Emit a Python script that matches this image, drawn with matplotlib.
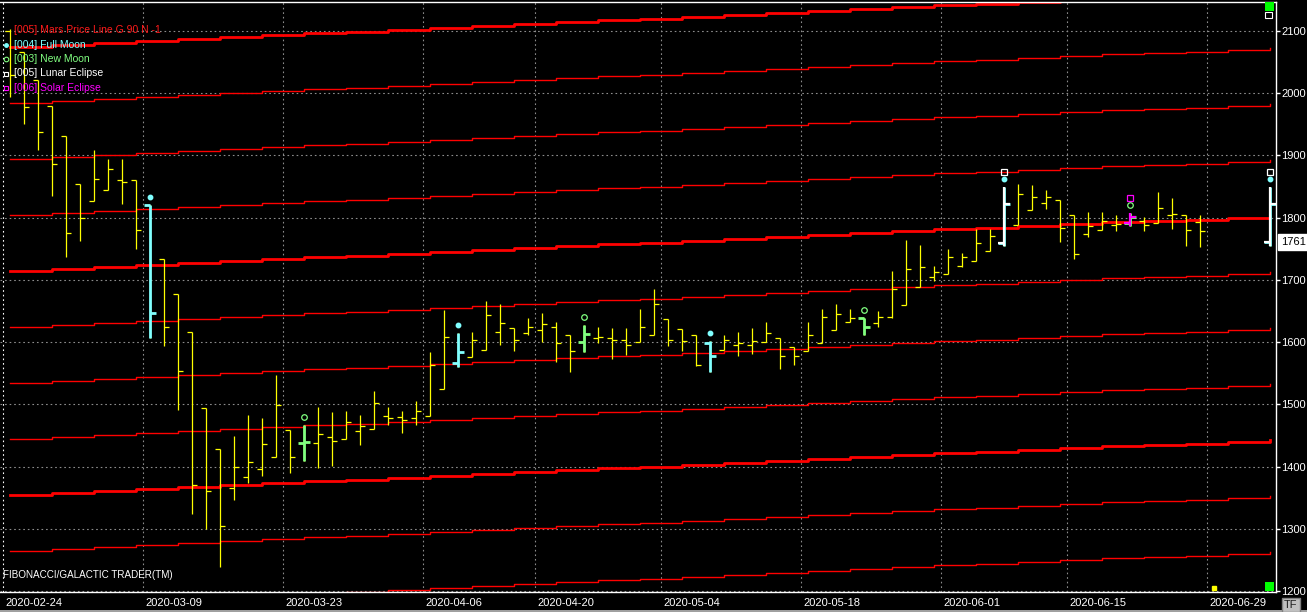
import numpy as np
import matplotlib.pyplot as plt
from matplotlib import transforms
from matplotlib.patches import Rectangle

# bar index = trading day counted from 2020-02-24
bars = list(range(86)) + [90]
opens = [2100, 2066, 2021, 1979, 1932, 1854, 1826, 1844, 1860, 1860,
         1821, 1733, 1678, 1616, 1494, 1428, 1365, 1383, 1396, 1416,
         1458, 1438, 1438, 1447, 1444, 1457, 1460, 1481, 1479, 1478,
         1482, 1524, 1566, 1576, 1588, 1616, 1622, 1614, 1619, 1624,
         1611, 1600, 1606, 1606, 1604, 1600, 1612, 1637, 1621, 1611,
         1599, 1587, 1595, 1596, 1600, 1606, 1592, 1585, 1598, 1619,
         1632, 1638, 1630, 1640, 1659, 1689, 1704, 1709, 1723, 1730,
         1746, 1759, 1789, 1812, 1823, 1828, 1805, 1774, 1780, 1788,
         1791, 1795, 1791, 1804, 1804, 1793, 1761]
highs = [2103, 2066, 2021, 1979, 1932, 1854, 1909, 1894, 1894, 1860,
         1821, 1733, 1678, 1616, 1494, 1428, 1449, 1483, 1478, 1547,
         1458, 1466, 1495, 1487, 1490, 1483, 1521, 1496, 1490, 1506,
         1584, 1652, 1614, 1616, 1666, 1661, 1622, 1639, 1647, 1632,
         1611, 1627, 1625, 1622, 1622, 1654, 1685, 1637, 1621, 1611,
         1602, 1611, 1616, 1622, 1633, 1606, 1592, 1632, 1654, 1661,
         1654, 1638, 1650, 1714, 1764, 1756, 1722, 1750, 1743, 1782,
         1782, 1850, 1854, 1852, 1844, 1828, 1805, 1809, 1809, 1804,
         1808, 1801, 1842, 1832, 1804, 1804, 1850]
lows = [1994, 1950, 1909, 1835, 1736, 1762, 1826, 1844, 1822, 1749,
        1607, 1593, 1491, 1323, 1300, 1239, 1347, 1373, 1385, 1416,
        1390, 1409, 1398, 1401, 1444, 1435, 1460, 1466, 1454, 1467,
        1482, 1524, 1560, 1576, 1588, 1596, 1585, 1611, 1600, 1568,
        1552, 1584, 1599, 1573, 1580, 1600, 1612, 1594, 1586, 1562,
        1552, 1587, 1578, 1581, 1600, 1556, 1564, 1585, 1598, 1619,
        1632, 1611, 1625, 1639, 1659, 1689, 1699, 1709, 1721, 1730,
        1746, 1755, 1789, 1812, 1814, 1761, 1734, 1769, 1780, 1779,
        1787, 1779, 1791, 1782, 1755, 1753, 1755]
closes = [2030, 1978, 1938, 1886, 1775, 1799, 1862, 1878, 1858, 1780,
          1646, 1625, 1553, 1371, 1360, 1304, 1400, 1408, 1437, 1499,
          1416, 1440, 1453, 1441, 1471, 1465, 1502, 1478, 1475, 1489,
          1564, 1608, 1584, 1603, 1644, 1630, 1604, 1625, 1629, 1598,
          1586, 1613, 1608, 1603, 1595, 1624, 1661, 1604, 1601, 1563,
          1577, 1603, 1598, 1601, 1614, 1577, 1577, 1611, 1641, 1645,
          1638, 1624, 1641, 1685, 1717, 1720, 1712, 1736, 1736, 1760,
          1770, 1822, 1838, 1833, 1833, 1783, 1741, 1787, 1795, 1790,
          1801, 1788, 1815, 1806, 1780, 1778, 1822]

full_moon = [10, 32, 50, 71, 90]
new_moon = [21, 41, 61, 80]
lunar_eclipse = [71, 90]
solar_eclipse = [80]

# Mars price line (G 90): base level read every 3 bars
mars_bars = list(range(0, 91, 3))
mars_base = [1715, 1718, 1721, 1724, 1727, 1730, 1733, 1736, 1739, 1742,
             1745, 1748, 1751, 1754, 1757, 1760, 1763, 1766, 1769, 1772,
             1775, 1778, 1781, 1784, 1787, 1790, 1793, 1795, 1797, 1800,
             1802]
harmonic = 90
harmonic_n = list(range(-6, 5))

tick_bars = [0, 10, 20, 30, 38, 47, 57, 67, 76, 86]
tick_labels = ['2020-02-24', '2020-03-09', '2020-03-23', '2020-04-06',
               '2020-04-20', '2020-05-04', '2020-05-18', '2020-06-01',
               '2020-06-15', '2020-06-29']
last_label = '1761'

plt.rcParams['font.family'] = ['Liberation Sans', 'DejaVu Sans']

W, H = 1307, 612
fig = plt.figure(figsize=(W / 100, H / 100), dpi=100, facecolor='black')
ax = fig.add_axes([0, 20 / H, 1276 / W, 590 / H], facecolor='black')
ax.set_xlim(-10 / 14, 1266 / 14)
ax.set_ylim(1198.4, 2146.6)

grey = '#8c8c8c'
dash = (0, (1.5, 2.6))
for b in tick_bars:
    ax.axvline(b - 0.5, color='white' if b == 0 else grey, lw=0.8,
               linestyle=dash, zorder=1)
ax.set_yticks(range(1200, 2101, 100))
ax.grid(axis='y', color=grey, lw=0.8, linestyle=dash, zorder=1)
ax.set_xticks([])

# Mars lines
for n in harmonic_n:
    lvl = np.array(mars_base) + n * harmonic
    thick = n % 4 == 0
    ax.plot(mars_bars, lvl, drawstyle='steps-post', color='#ff0000',
            lw=2.0 if thick else 1.0, zorder=2)

bars_a = np.array(bars)
# yellow OHLC bars
ax.vlines(bars_a, lows, highs, color='#ffff00', lw=0.9, zorder=3)
ax.hlines(opens, bars_a - 0.33, bars_a, color='#ffff00', lw=0.9, zorder=3)
ax.hlines(closes, bars_a, bars_a + 0.33, color='#ffff00', lw=0.9, zorder=3)


def event_bars(idx, color, lw, z):
    sel = [bars.index(i) for i in idx]
    x = bars_a[sel]
    ax.vlines(x, np.array(lows)[sel], np.array(highs)[sel], color=color, lw=lw, zorder=z)
    ax.hlines(np.array(opens)[sel], x - 0.45, x, color=color, lw=lw, zorder=z)
    ax.hlines(np.array(closes)[sel], x, x + 0.45, color=color, lw=lw, zorder=z)


event_bars(full_moon, '#80ffff', 2.0, 4)
event_bars(new_moon, '#80ff80', 2.0, 4)
event_bars(lunar_eclipse, '#ffffff', 1.6, 5)
event_bars(solar_eclipse, '#ff00ff', 1.6, 5)

above1 = transforms.offset_copy(ax.transData, fig=fig, y=8, units='dots')
above2 = transforms.offset_copy(ax.transData, fig=fig, y=15, units='dots')
hi = dict(zip(bars, highs))
ax.plot(full_moon, [hi[i] for i in full_moon], 'o', ms=3.2, color='#80ffff',
        transform=above1, zorder=6)
ax.plot(new_moon, [hi[i] for i in new_moon], 'o', ms=4, mfc='none', mec='#80ff80',
        mew=0.9, transform=above1, zorder=6)
ax.plot(lunar_eclipse, [hi[i] for i in lunar_eclipse], 's', ms=4.3, mfc='none',
        mec='white', mew=0.9, transform=above2, zorder=6)
ax.plot(solar_eclipse, [hi[i] for i in solar_eclipse], 's', ms=4.3, mfc='none',
        mec='#ff00ff', mew=0.9, transform=above2, zorder=6)

# current day marker at the bottom
mark = transforms.blended_transform_factory(ax.transData, ax.transAxes)
ax.plot([86], [0.006], 's', ms=3, color='#ffff00', transform=mark,
        clip_on=False, zorder=6)

# axes frame
for s in ['top', 'right', 'bottom']:
    ax.spines[s].set_color('white')
    ax.spines[s].set_linewidth(1)
ax.spines['left'].set_visible(False)
ax.yaxis.tick_right()
ax.tick_params(axis='y', colors='white', labelsize=8, length=3, width=1, pad=1)

# date labels
lab_tr = transforms.offset_copy(mark, fig=fig, x=2, y=-11, units='dots')
for b, t in zip(tick_bars, tick_labels):
    ax.text(b - 0.5, 0, t, color='white', fontsize=8, ha='left', va='center',
            transform=lab_tr, clip_on=False)

# legend
legend = [('[005] Mars Price Line G 90 N -1', '#ff1a1a', None),
          ('[004] Full Moon', '#80ffff', 'o'),
          ('[003] New Moon', '#80ff80', 'O'),
          ('[005] Lunar Eclipse', '#ffffff', 's'),
          ('[006] Solar Eclipse', '#ff00ff', 's')]
for i, (t, c, m) in enumerate(legend):
    ypix = 30 + 14.5 * i
    fig.text(14 / W, 1 - ypix / H, t, color=c, fontsize=7.5, va='center', ha='left')
    if m == 'o':
        fig.add_artist(plt.Line2D([6 / W], [1 - ypix / H], marker='o', ms=2.5,
                                  color=c, lw=0))
    elif m == 'O':
        fig.add_artist(plt.Line2D([6 / W], [1 - ypix / H], marker='o', ms=3.3,
                                  mfc='none', mec=c, mew=0.8, lw=0))
    elif m == 's':
        fig.add_artist(plt.Line2D([6 / W], [1 - ypix / H], marker='s', ms=3.5,
                                  mfc='none', mec=c, mew=0.8, lw=0))

fig.text(3 / W, 1 - 575 / H, 'FIBONACCI/GALACTIC TRADER(TM)', color='white',
         fontsize=7.1, va='center', ha='left')

# last price box
ax.text(1.004, 1761, last_label, transform=transforms.blended_transform_factory(ax.transAxes, ax.transData),
        color='black', fontsize=8, va='center', ha='left', clip_on=False,
        bbox=dict(boxstyle='square,pad=0.25', fc='white', ec='white'))

# window decorations
fig.add_artist(Rectangle((1265 / W, 1 - 11 / H), 9 / W, 9 / H, fc='#00ff00', ec='none'))
fig.add_artist(Rectangle((1265 / W, 1 - 18 / H), 7 / W, 6 / H, fc='black', ec='white', lw=0.8))
fig.add_artist(Rectangle((1265 / W, 21 / H), 9 / W, 9 / H, fc='#00ff00', ec='none'))
fig.add_artist(Rectangle((0, 0), 1, 2 / H, fc='#a0a0a0', ec='none'))
fig.text(1291 / W, 7 / H, 'TF', color='#202020', fontsize=8, va='center', ha='center',
         bbox=dict(boxstyle='square,pad=0.2', fc='#c0c0c0', ec='#808080'))

fig.savefig('out.png', dpi=100, facecolor='black')
